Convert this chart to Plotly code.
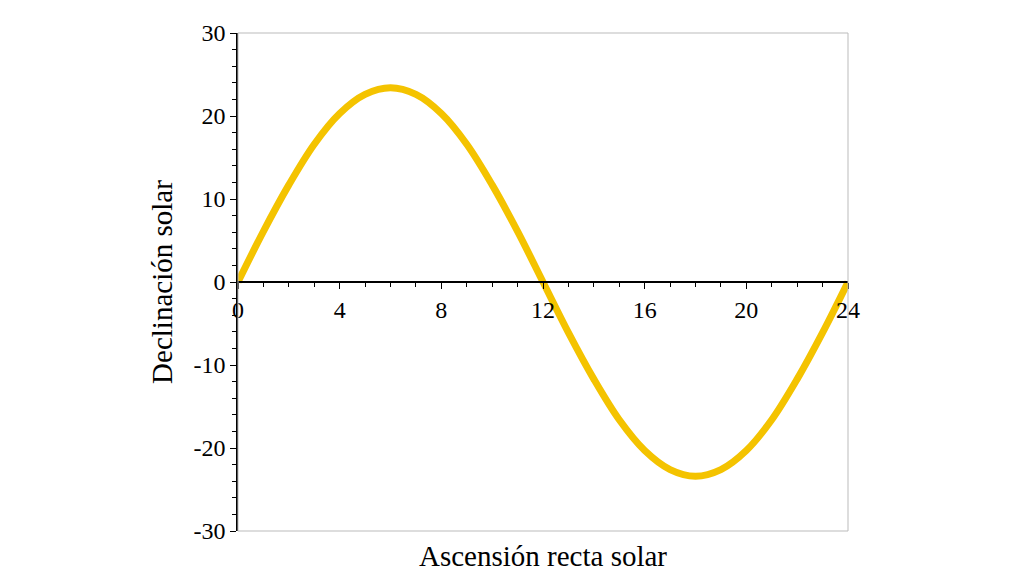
import plotly.graph_objects as go

# ascensión recta (h) y declinación (°)
hours = [0, 1, 2, 3, 4, 5, 6, 7, 8, 9, 10, 11, 12,
         13, 14, 15, 16, 17, 18, 19, 20, 21, 22, 23, 24]
decl = [0, 6.1, 11.7, 16.6, 20.3, 22.6, 23.4, 22.6, 20.3, 16.6, 11.7, 6.1, 0,
        -6.1, -11.7, -16.6, -20.3, -22.6, -23.4, -22.6, -20.3, -16.6, -11.7, -6.1, 0]
x_ticks = [0, 4, 8, 12, 16, 20, 24]
y_ticks = [-30, -20, -10, 0, 10, 20, 30]
y_labels = ["-30", "-20", "-10", "0", "10", "20", "30"]

font = "Liberation Serif"

fig = go.Figure()
fig.add_trace(go.Scatter(x=hours, y=decl, mode="lines",
                         line=dict(color="#f4c300", width=7, shape="spline"),
                         showlegend=False))

fig.update_layout(
    width=1024, height=585,
    margin=dict(l=230, r=184, t=25, b=62),
    paper_bgcolor="white", plot_bgcolor="white",
    font=dict(family=font, size=24, color="black"),
    xaxis=dict(range=[0, 24], tickvals=x_ticks, showgrid=False, zeroline=False,
               anchor="free", position=0.5, showline=True, linecolor="black",
               linewidth=1.5, ticks="outside", ticklen=6, tickcolor="black",
               minor=dict(dtick=1, ticks="outside", ticklen=4, tickcolor="black"),
               automargin=False, title=None),
    yaxis=dict(range=[-30, 30], tickvals=y_ticks, ticktext=y_labels,
               showgrid=False, zeroline=False,
               showline=True, linecolor="black", linewidth=1.5,
               ticks="outside", ticklen=6, tickcolor="black",
               minor=dict(dtick=2, ticks="outside", ticklen=4, tickcolor="black"),
               automargin=False,
               title=dict(text="Declinación solar", font=dict(size=29), standoff=12)),
    shapes=[dict(type="rect", xref="paper", yref="paper", x0=0, x1=1, y0=0, y1=1,
                 line=dict(color="#bbbbbb", width=1))],
    annotations=[dict(text="Ascensión recta solar", xref="paper", yref="paper",
                      x=0.5, y=-0.015, yanchor="top", showarrow=False,
                      font=dict(size=29))],
)

fig.write_html("out.html")
